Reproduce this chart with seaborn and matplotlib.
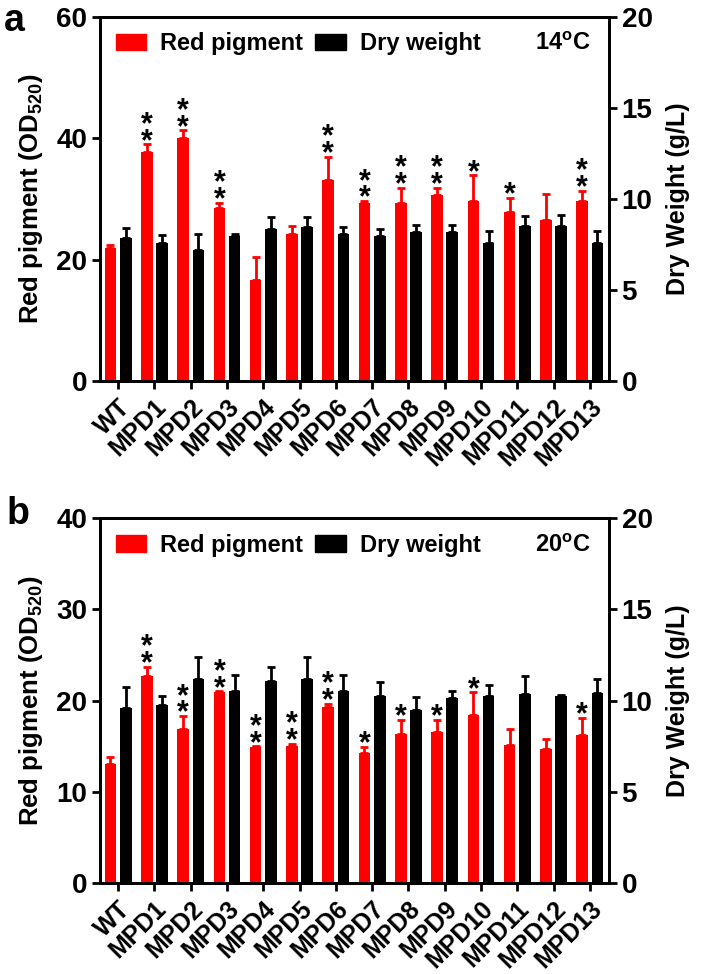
import pandas as pd
import matplotlib
matplotlib.use("Agg")
import matplotlib.pyplot as plt
import seaborn as sns
from matplotlib.patches import Patch

strains = ["WT", "MPD1", "MPD2", "MPD3", "MPD4", "MPD5", "MPD6",
           "MPD7", "MPD8", "MPD9", "MPD10", "MPD11", "MPD12", "MPD13"]
series_names = ["Red pigment", "Dry weight"]
colors = {"Red pigment": "#ff0000", "Dry weight": "#000000"}

# 14 oC
red_14 = [21.9, 37.8, 40.1, 28.6, 16.6, 24.2, 33.1, 29.4, 29.3, 30.7, 29.7, 27.9, 26.5, 29.7]
red_14_err = [0.5, 1.2, 1.2, 0.8, 3.9, 1.4, 3.9, 0.25, 2.6, 1.2, 4.2, 2.3, 4.4, 1.7]
dw_14 = [7.87, 7.58, 7.18, 7.97, 8.35, 8.48, 8.08, 7.97, 8.2, 8.2, 7.56, 8.52, 8.52, 7.58]
dw_14_err = [0.52, 0.44, 0.91, 0.12, 0.68, 0.55, 0.4, 0.4, 0.4, 0.4, 0.66, 0.57, 0.6, 0.68]
sig_14 = ["", "**", "**", "**", "", "", "**", "**", "**", "**", "*", "*", "", "**"]

# 20 oC
red_20 = [13.1, 22.7, 16.9, 20.9, 14.9, 15.05, 19.3, 14.25, 16.3, 16.5, 18.45, 15.1, 14.7, 16.2]
red_20_err = [0.7, 1.0, 1.4, 0.1, 0.08, 0.2, 0.35, 0.65, 1.55, 1.4, 2.45, 1.8, 1.1, 1.9]
dw_20 = [9.6, 9.73, 11.2, 10.52, 11.08, 11.2, 10.52, 10.25, 9.5, 10.15, 10.23, 10.37, 10.23, 10.4]
dw_20_err = [1.15, 0.5, 1.2, 0.9, 0.77, 1.2, 0.9, 0.77, 0.7, 0.38, 0.62, 1.0, 0.1, 0.76]
sig_20 = ["", "**", "**", "**", "**", "**", "**", "*", "*", "*", "*", "", "", "*"]

sns.set_style("ticks")
plt.rcParams["font.family"] = ["Liberation Sans", "DejaVu Sans"]
plt.rcParams["font.weight"] = "bold"
plt.rcParams["mathtext.fontset"] = "custom"
plt.rcParams["mathtext.rm"] = "Liberation Sans:bold"
plt.rcParams["mathtext.it"] = "Liberation Sans:bold"
plt.rcParams["mathtext.bf"] = "Liberation Sans:bold"
for key in ["text.color", "axes.labelcolor", "xtick.color", "ytick.color", "axes.edgecolor"]:
    plt.rcParams[key] = "black"


def draw_panel(ax, red, red_err, dw, dw_err, sig, ymax, temp):
    n = len(strains)
    # each axis gets both hue levels so seaborn dodges them; the other series is flat (0)
    df_left = pd.DataFrame({"Strain": strains * 2,
                            "Series": ["Red pigment"] * n + ["Dry weight"] * n,
                            "Value": list(red) + [0] * n})
    df_right = pd.DataFrame({"Strain": strains * 2,
                             "Series": ["Red pigment"] * n + ["Dry weight"] * n,
                             "Value": [0] * n + list(dw)})
    ax2 = ax.twinx()

    sns.barplot(data=df_left, x="Strain", y="Value", hue="Series", hue_order=series_names,
                order=strains, palette=colors, width=0.84, gap=0.24, errorbar=None,
                saturation=1, linewidth=0, legend=False, ax=ax)
    sns.barplot(data=df_right, x="Strain", y="Value", hue="Series", hue_order=series_names,
                order=strains, palette=colors, width=0.84, gap=0.24, errorbar=None,
                saturation=1, linewidth=0, legend=False, ax=ax2)

    xr = [p.get_x() + p.get_width() / 2 for p in ax.containers[0]]
    xb = [p.get_x() + p.get_width() / 2 for p in ax2.containers[1]]
    ax.errorbar(xr, red, yerr=[[0] * n, red_err], fmt="none", ecolor="#ff0000",
                elinewidth=2, capsize=2.6, capthick=2)
    ax2.errorbar(xb, dw, yerr=[[0] * n, dw_err], fmt="none", ecolor="black",
                 elinewidth=2, capsize=2.6, capthick=2)

    for x, v, e, s in zip(xr, red, red_err, sig):
        if s:
            ax.annotate("\n".join(s), xy=(x, v + e), xytext=(0, -9), textcoords="offset points",
                        ha="center", va="bottom", fontsize=22, linespacing=0.42)

    ax.set_ylim(0, ymax)
    ax2.set_ylim(0, 20)
    ax.set_yticks(range(0, ymax + 1, 10 if ymax == 40 else 20))
    ax2.set_yticks([0, 5, 10, 15, 20])
    ax.set_xlim(-0.5, n - 0.47)

    ax.set_ylabel("Red pigment (OD$_{520}$)", fontsize=18.5, fontweight="bold", labelpad=8)
    ax2.set_ylabel("Dry Weight (g/L)", fontsize=18, fontweight="bold", labelpad=10)
    ax.set_xlabel("")
    ax2.set_xlabel("")

    for a in (ax, ax2):
        for sp in a.spines.values():
            sp.set_linewidth(2)
            sp.set_visible(True)
        a.tick_params(axis="y", direction="out", length=6, width=2, labelsize=20, pad=3)
    ax.tick_params(axis="x", direction="out", length=6, width=2, pad=4)
    ax.set_xticks(range(n))
    ax.set_xticklabels(strains, rotation=45, ha="right", va="top",
                       rotation_mode="anchor", fontsize=18, fontweight="bold")
    for lab in ax.get_yticklabels() + ax2.get_yticklabels():
        lab.set_fontweight("bold")

    handles = [Patch(color=colors[s]) for s in series_names]
    ax2.legend(handles, series_names, loc="center left", bbox_to_anchor=(0.012, 0.926),
               ncol=2, frameon=False, borderaxespad=0, prop={"size": 17, "weight": "bold"},
               handlelength=1.3, handleheight=0.7, handletextpad=0.6, columnspacing=0.5)
    ax2.text(0.963, 0.926, temp, transform=ax2.transAxes, ha="right", va="center",
             fontsize=17, fontweight="bold")


fig = plt.figure(figsize=(7.08, 9.74), dpi=100)
ax_a = fig.add_axes([0.1412, 0.6088, 0.7190, 0.3737])
ax_b = fig.add_axes([0.1412, 0.0934, 0.7190, 0.3747])

draw_panel(ax_a, red_14, red_14_err, dw_14, dw_14_err, sig_14, 60, "14$^{o}$C")
draw_panel(ax_b, red_20, red_20_err, dw_20, dw_20_err, sig_20, 40, "20$^{o}$C")

fig.text(0.006, 0.997, "a", fontsize=27, fontweight="bold", va="top", ha="left")
fig.text(0.009, 0.491, "b", fontsize=27, fontweight="bold", va="top", ha="left")

fig.savefig("out.png", dpi=100)
